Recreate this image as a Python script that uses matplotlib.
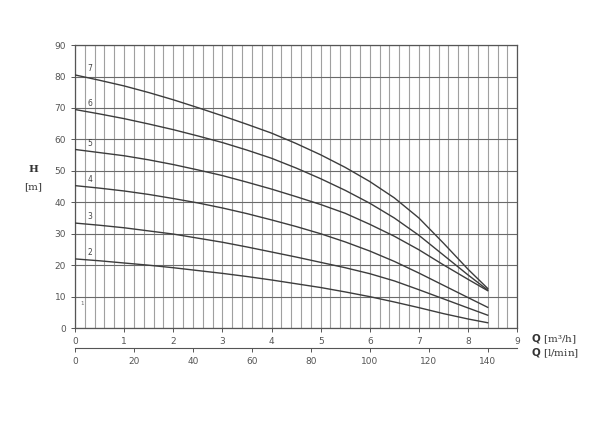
import numpy as np
import matplotlib
matplotlib.use("Agg")
import matplotlib.pyplot as plt

# Q [m3/h] sampling points and head H [m] for each pump curve
q = [0, 0.5, 1, 1.5, 2, 2.5, 3, 3.5, 4, 4.5, 5, 5.5, 6, 6.5, 7, 7.5, 8, 8.4]
h2 = [22.0, 21.4, 20.7, 20.0, 19.2, 18.3, 17.4, 16.4, 15.3, 14.1, 12.9, 11.5, 10.0, 8.3, 6.5, 4.6, 2.9, 1.7]
h3 = [33.4, 32.7, 31.9, 30.9, 29.9, 28.6, 27.3, 25.8, 24.2, 22.6, 20.9, 19.2, 17.3, 15.0, 12.2, 9.3, 6.4, 4.1]
h4 = [45.3, 44.5, 43.6, 42.5, 41.2, 39.8, 38.2, 36.4, 34.4, 32.3, 30.0, 27.4, 24.5, 21.2, 17.5, 13.6, 9.7, 6.6]
h5 = [56.8, 55.8, 54.8, 53.5, 52.0, 50.3, 48.5, 46.4, 44.2, 41.8, 39.3, 36.5, 33.0, 29.2, 24.9, 20.1, 15.5, 11.9]
h6 = [69.5, 68.1, 66.6, 64.9, 63.1, 61.1, 59.0, 56.6, 54.0, 50.9, 47.5, 43.8, 39.7, 35.0, 29.5, 23.2, 16.9, 12.1]
h7 = [80.5, 78.8, 77.0, 74.9, 72.6, 70.1, 67.5, 64.8, 62.0, 58.7, 55.1, 51.1, 46.6, 41.4, 35.0, 27.0, 18.7, 12.6]
curves = {"2": h2, "3": h3, "4": h4, "5": h5, "6": h6, "7": h7}

q_ticks = list(range(0, 10))
lmin_ticks = [0, 20, 40, 60, 80, 100, 120, 140]
h_ticks = list(range(0, 100, 10))

fig = plt.figure(figsize=(6, 4.25), dpi=100)
ax = fig.add_axes([0.125, 0.228, 0.737, 0.666])

# grid
for x in np.arange(0, 9.01, 0.2):
    ax.axvline(x, color="#a0a0a0", lw=0.8, zorder=1)
for y in h_ticks:
    ax.axhline(y, color="#6a6a6a", lw=0.8, zorder=1)

for name, h in curves.items():
    ax.plot(q, h, color="#3c3c3c", lw=1.0, zorder=3, solid_joinstyle="round")
    ax.text(0.25, h[0] + 1.2, name, fontsize=5.5, color="#444444")
ax.text(0.1, 7.5, "1", fontsize=4, color="#666666")

ax.set_xlim(0, 9)
ax.set_ylim(0, 90)
ax.set_xticks(q_ticks)
ax.set_yticks(h_ticks)
ax.tick_params(labelsize=6.5, colors="#555555", length=3, width=0.7)
for s in ax.spines.values():
    s.set_color("#555555")
    s.set_linewidth(0.9)

sec = ax.secondary_xaxis(-0.07, functions=(lambda v: v * 1000 / 60, lambda v: v * 60 / 1000))
sec.set_xticks(lmin_ticks)
sec.tick_params(labelsize=6.5, colors="#555555", length=3, width=0.7)
sec.spines["bottom"].set_color("#555555")

fig.text(0.055, 0.595, "H", fontsize=7.5, family="DejaVu Serif", weight="bold",
         ha="center", color="#333333")
fig.text(0.055, 0.555, "[m]", fontsize=7.5, family="DejaVu Serif", ha="center", color="#333333")
fig.text(0.885, 0.195, r"$\mathbf{Q}$ [m³/h]", fontsize=7.5, family="DejaVu Serif", color="#333333")
fig.text(0.885, 0.162, r"$\mathbf{Q}$ [l/min]", fontsize=7.5, family="DejaVu Serif", color="#333333")

fig.savefig("out.png", dpi=100, facecolor="white")
